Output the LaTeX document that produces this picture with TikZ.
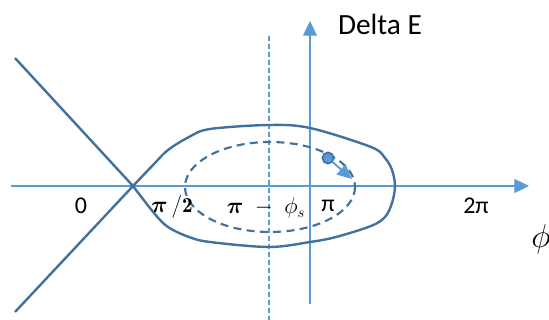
\documentclass[tikz,border=0pt]{standalone}
\usepackage{amsmath}
\usepackage{fontspec}
\newfontfamily\calibri{Carlito}
\usetikzlibrary{arrows.meta, positioning}
\definecolor{axblue}{RGB}{91,155,213}
\definecolor{curveblue}{RGB}{65,113,156}

\begin{document}
\begin{tikzpicture}[x=0.75pt,y=-0.75pt,
  axis/.style={-{Triangle[length=11pt,width=10.5pt]},axblue,line width=0.9pt},
  sep/.style={curveblue,line width=1.8pt,line join=round},
  orbit/.style={curveblue,line width=1.6pt,dash pattern=on 6pt off 4pt},
  motion/.style={-{Triangle[length=11pt,width=10pt]},axblue,line width=1.4pt},
  dot/.style={circle,draw=curveblue,fill=axblue,line width=1.2pt,minimum size=8.5pt,inner sep=0pt},
  lbl/.style={font=\calibri\fontsize{18}{20}\selectfont,inner sep=0pt},
  mlbl/.style={font=\fontsize{16}{18}\selectfont,inner sep=0pt}
]
\useasboundingbox (0,0) rectangle (549,320);

% ── axes ────────────────────────────────────────────────
\coordinate (xa0) at (11,186);
\coordinate (xa1) at (529,186);
\coordinate (ya0) at (310,304);
\coordinate (ya1) at (310,21);
\coordinate (sy0) at (269,36);
\coordinate (sy1) at (269,322);
\draw[axis] (xa0) -- (xa1);
\draw[axis] (ya0) -- (ya1);
\draw[axblue,line width=0.9pt,dash pattern=on 3.5pt off 2.5pt] (sy0) -- (sy1);

% ── separatrix ──────────────────────────────────────────
\coordinate (X)  at (133,186);
\coordinate (ul) at (15,58);
\coordinate (ll) at (15,312);
\draw[sep] (ul) -- (X);
\draw[sep] (ll) -- (X);
\draw[sep] plot[smooth, tension=0.55] coordinates {(133,186) (154,164) (168,150)
  (189,137) (210,129) (269,125) (310,128) (371,147) (385,158) (392,170) (395,186)
  (392,203) (385,217) (371,226) (336,237) (310,242) (269,247) (210,242) (189,237)
  (168,227) (154,213) (133,186)};

% ── orbit ───────────────────────────────────────────────
\draw[orbit] (270,187) ellipse [x radius=85, y radius=45];
\node[dot] (bunch) at (328,158) {};
\coordinate (tip) at (352,179);
\draw[motion] (bunch) -- (tip);

% ── labels ──────────────────────────────────────────────
\node[font=\calibri\fontsize{22}{24}\selectfont,inner sep=0pt] (dE) at (380,24) {Delta E};
\node[lbl] (zero)  at (81,206)  {0};
\node[mlbl] (halfpi) at (172,207) {$\boldsymbol{\pi}\,/\mathbf{2}$};
\node[mlbl] (pmphi) at (266,208) {$\boldsymbol{\pi}\;-\;\phi_s$};
\node[lbl] (pil)   at (328,206) {π};
\node[lbl] (twopi) at (476,206) {2π};
\node[font=\fontsize{25}{28}\selectfont,inner sep=0pt,anchor=west] (phil) at (531,239) {$\phi$};

\end{tikzpicture}
\end{document}
